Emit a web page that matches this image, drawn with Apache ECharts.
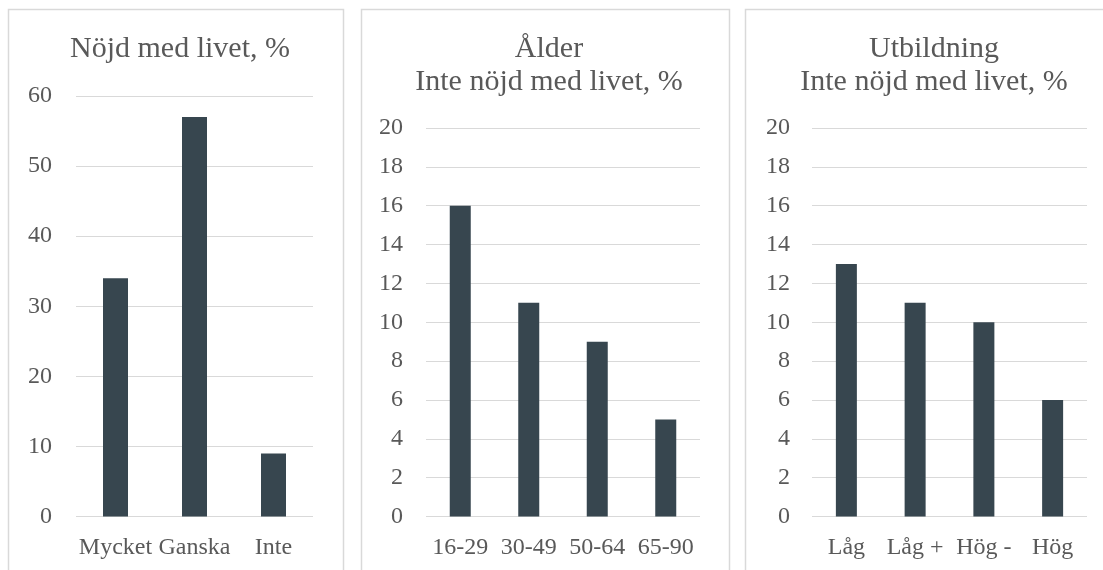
<!DOCTYPE html>
<html>
<head>
<meta charset="utf-8">
<script src="https://cdn.jsdelivr.net/npm/echarts@6/dist/echarts.min.js"></script>
<style>
  html, body { margin: 0; padding: 0; background: #ffffff; }
  #chart { width: 1103px; height: 570px; }
</style>
</head>
<body>
<div id="chart"></div>
<script>
// Panel 1: overall life satisfaction
const satCategories = ['Mycket', 'Ganska', 'Inte'];
const satValues = [34, 57, 9];

// Panel 2: not satisfied, by age group
const ageCategories = ['16-29', '30-49', '50-64', '65-90'];
const ageValues = [16, 11, 9, 5];

// Panel 3: not satisfied, by education level
const eduCategories = ['Låg', 'Låg +', 'Hög -', 'Hög'];
const eduValues = [13, 11, 10, 6];

const titles = ['Nöjd med livet, %', 'Ålder\nInte nöjd med livet, %', 'Utbildning\nInte nöjd med livet, %'];

const FONT = '"Liberation Serif", "DejaVu Serif", serif';
const TEXT = '#595959';
const BAR = '#37464f';
const GRIDLINE = '#d9d9d9';

const chart = echarts.init(document.getElementById('chart'), null, { renderer: 'canvas' });

function yAxis(gridIndex, max, interval, margin) {
  return {
    type: 'value', gridIndex, min: 0, max, interval,
    axisLine: { show: false }, axisTick: { show: false },
    axisLabel: { color: TEXT, fontFamily: FONT, fontSize: 24, margin },
    splitLine: { lineStyle: { color: GRIDLINE, width: 1 } }
  };
}
function xAxis(gridIndex, data) {
  return {
    type: 'category', gridIndex, data,
    axisLine: { show: false }, axisTick: { show: false },
    axisLabel: { color: TEXT, fontFamily: FONT, fontSize: 24, margin: 19, interval: 0 }
  };
}
function bars(index, data, width) {
  return {
    type: 'bar', xAxisIndex: index, yAxisIndex: index, data,
    barWidth: width, itemStyle: { color: BAR }, silent: true
  };
}
function frame(x, w) {
  return {
    type: 'rect', shape: { x: x + 0.5, y: 9.5, width: w, height: 600 },
    style: { fill: 'none', stroke: '#d9d9d9', lineWidth: 1.5 }, silent: true
  };
}
function title(text, x, top) {
  return {
    text, left: x, top, textAlign: 'center',
    textStyle: { color: TEXT, fontFamily: FONT, fontSize: 30, fontWeight: 'normal', lineHeight: 33 }
  };
}

chart.setOption({
  animation: false,
  backgroundColor: '#ffffff',
  graphic: [frame(8, 335), frame(361, 368), frame(745, 380)],
  title: [
    title(titles[0], 175, 28),
    title(titles[1], 544, 28),
    title(titles[2], 929, 28)
  ],
  grid: [
    { left: 76, right: 790, top: 96, bottom: 53.5 },
    { left: 426, right: 403, top: 128, bottom: 53.5 },
    { left: 812, right: 16, top: 128, bottom: 53.5 }
  ],
  xAxis: [xAxis(0, satCategories), xAxis(1, ageCategories), xAxis(2, eduCategories)],
  yAxis: [yAxis(0, 60, 10, 24), yAxis(1, 20, 2, 23), yAxis(2, 20, 2, 22)],
  series: [bars(0, satValues, 25), bars(1, ageValues, 21), bars(2, eduValues, 21)]
});
</script>
</body>
</html>
